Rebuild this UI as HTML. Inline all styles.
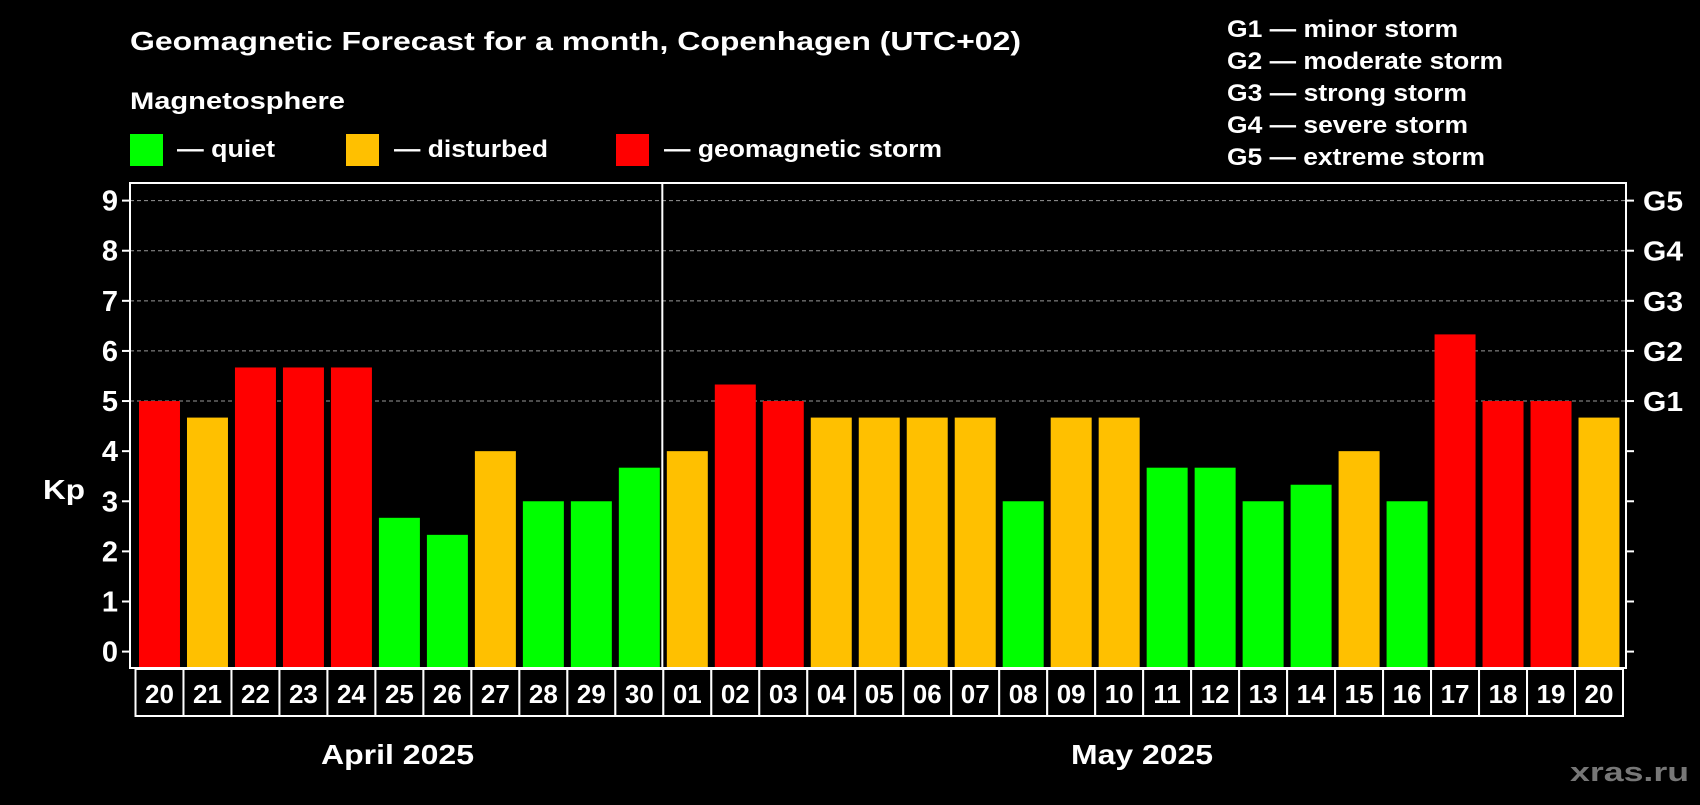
<!DOCTYPE html>
<html><head><meta charset="utf-8"><style>
body{margin:0;background:#000;width:1700px;height:800px;overflow:hidden}
svg text{font-family:"Liberation Sans",sans-serif;font-weight:bold;fill:#fff}
</style></head><body>
<svg id="c" width="1700" height="800">
<text x="130" y="50" font-size="26" textLength="891" lengthAdjust="spacingAndGlyphs">Geomagnetic Forecast for a month, Copenhagen (UTC+02)</text>
<text x="130" y="109" font-size="24" textLength="215" lengthAdjust="spacingAndGlyphs">Magnetosphere</text>
<g><rect x="130" y="134" width="33" height="32" fill="#00ff00"/><text x="177" y="157" font-size="24" textLength="98" lengthAdjust="spacingAndGlyphs">— quiet</text></g>
<g><rect x="346" y="134" width="33" height="32" fill="#ffc000"/><text x="394" y="157" font-size="24" textLength="154" lengthAdjust="spacingAndGlyphs">— disturbed</text></g>
<g><rect x="616" y="134" width="33" height="32" fill="#ff0000"/><text x="664" y="157" font-size="24" textLength="278" lengthAdjust="spacingAndGlyphs">— geomagnetic storm</text></g>
<g font-size="24">
<text x="1227" y="37" textLength="231" lengthAdjust="spacingAndGlyphs">G1 — minor storm</text>
<text x="1227" y="69" textLength="276" lengthAdjust="spacingAndGlyphs">G2 — moderate storm</text>
<text x="1227" y="101" textLength="240" lengthAdjust="spacingAndGlyphs">G3 — strong storm</text>
<text x="1227" y="133" textLength="241" lengthAdjust="spacingAndGlyphs">G4 — severe storm</text>
<text x="1227" y="165" textLength="258" lengthAdjust="spacingAndGlyphs">G5 — extreme storm</text>
</g>
<text x="43" y="499" font-size="28" textLength="42" lengthAdjust="spacingAndGlyphs">Kp</text>
<text x="321" y="764" font-size="28" textLength="153" lengthAdjust="spacingAndGlyphs">April 2025</text>
<text x="1071" y="764" font-size="28" textLength="142" lengthAdjust="spacingAndGlyphs">May 2025</text>
<text x="1570" y="781" font-size="27" textLength="119" lengthAdjust="spacingAndGlyphs" style="fill:#777">xras.ru</text>
<g id="plot"></g>
</svg>
<script>
const days=["20","21","22","23","24","25","26","27","28","29","30","01","02","03","04","05","06","07","08","09","10","11","12","13","14","15","16","17","18","19","20"];
const kp=[5,4.67,5.67,5.67,5.67,2.67,2.33,4,3,3,3.67,4,5.33,5,4.67,4.67,4.67,4.67,3,4.67,4.67,3.67,3.67,3,3.33,4,3,6.33,5,5,4.67];
const yTicks=[0,1,2,3,4,5,6,7,8,9];
const gLabels=["G1","G2","G3","G4","G5"];
const L=130,R=1626,T=183,B=668,y0=651.6,y9=200.6,lx0=135.5,lx1=1623;
const NS="http://www.w3.org/2000/svg";
const g=document.getElementById('plot');
const y=v=>y0+(y9-y0)*v/9;
const slot=(lx1-lx0)/days.length;
const x=i=>lx0+slot*i;
function mk(t,a){const e=document.createElementNS(NS,t);for(const k in a)e.setAttribute(k,a[k]);g.appendChild(e);return e;}
yTicks.forEach(v=>{
 if(v>=5){const l=mk('line',{x1:L,x2:R,y1:y(v),y2:y(v),stroke:'#999','stroke-dasharray':'4,3','stroke-width':1});
 
 }
 mk('line',{x1:L-8,x2:L,y1:y(v),y2:y(v),stroke:'#fff','stroke-width':2});
 mk('line',{x1:R,x2:R+8,y1:y(v),y2:y(v),stroke:'#fff','stroke-width':2});
 const t=mk('text',{x:L-12,y:y(v)+10,'font-size':29,'text-anchor':'end'});t.textContent=v;
 
 
});
gLabels.forEach((s,i)=>{const t=mk('text',{x:1643,y:y(5+i)+10,'font-size':28,textLength:40,lengthAdjust:'spacingAndGlyphs'});t.textContent=s;
 
 });
kp.forEach((v,i)=>{
 const c=v>=5?'#ff0000':(v>=4?'#ffc000':'#00ff00');
 const r=mk('rect',{x:x(i)+3.5,y:y(v),width:slot-7,height:B-1-y(v),fill:c});
 
 
 const b=mk('rect',{x:x(i),y:669,width:slot,height:47,fill:'#000',stroke:'#fff','stroke-width':2});
 
 
 const t=mk('text',{x:x(i)+slot/2,y:703,'font-size':26,'text-anchor':'middle'});t.textContent=days[i];
 
 
});
const f=mk('rect',{x:L,y:T,width:R-L,height:B-T,fill:'none',stroke:'#fff','stroke-width':2});


const d=mk('line',{x1:x(11)-1,x2:x(11)-1,y1:T,y2:B,stroke:'#fff','stroke-width':2});


</script>
</body></html>
